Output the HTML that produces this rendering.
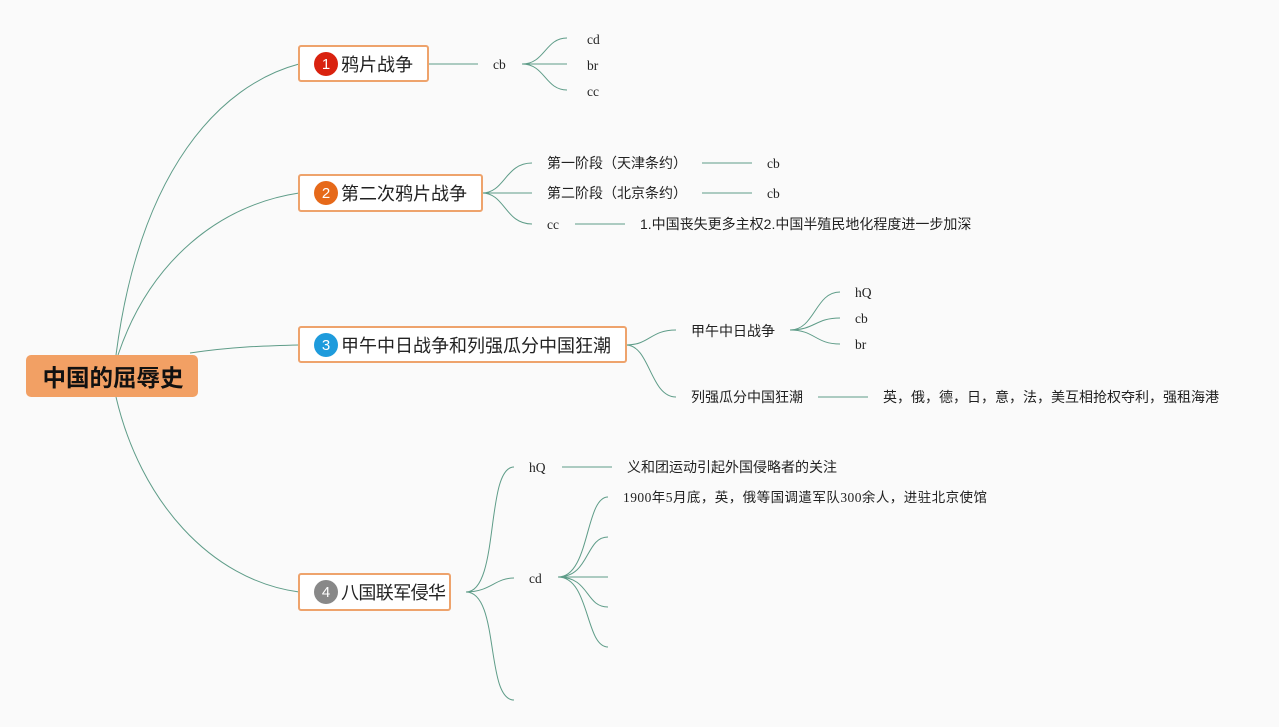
<!DOCTYPE html>
<html><head><meta charset="utf-8"><style>
body{margin:0;background:#fafafa;}
svg{display:block}
.s{font-family:"Liberation Serif","Noto Sans CJK SC",serif;font-size:13.5px;fill:#222}
.c{font-family:"Liberation Sans","Noto Sans CJK SC",sans-serif;font-size:14px;fill:#222}
.b{font-family:"Liberation Sans","Noto Sans CJK SC",sans-serif;font-size:18px;fill:#222}
</style></head><body>
<svg width="1279" height="727" viewBox="0 0 1279 727">
<rect width="1279" height="727" fill="#fafafa"/>
<g fill="none" stroke="#5e9c88" stroke-width="1">
<path d="M116,355 C140,170 220,85 299,64"/>
<path d="M118,355 C150,260 220,205 299,193"/>
<path d="M190,353 C230,347 260,346 299,345"/>
<path d="M116,397 C140,500 210,580 299,592"/>
<path d="M428,64 H478"/>
<path d="M522,64 C545,64 545,38 567,38 M522,64 H567 M522,64 C545,64 545,90 567,90"/>
<path d="M482,193 C505,193 505,163 532,163 M482,193 H532 M482,193 C505,193 505,224 532,224"/>
<path d="M702,163 H752 M702,193 H752 M575,224 H625"/>
<path d="M626,345 C650,345 650,330 676,330 M626,345 C650,345 650,397 676,397"/>
<path d="M790,330 C815,330 815,292 840,292 M790,330 C815,330 815,318 840,318 M790,330 C815,330 815,344 840,344"/>
<path d="M818,397 H868"/>
<path d="M466,592 C500,592 485,467 514,467 M466,592 C490,592 495,578 514,578 M466,592 C500,592 485,700 514,700"/>
<path d="M562,467 H612"/>
<path d="M558,577 C590,577 585,497 608,497 M558,577 C590,577 585,537 608,537 M558,577 H608 M558,577 C590,577 585,607 608,607 M558,577 C590,577 585,647 608,647"/>
</g>
<rect x="26" y="355" width="172" height="42" rx="5" fill="#f2a064"/>
<text x="113" y="386" text-anchor="middle" font-family="Liberation Sans,Noto Sans CJK SC,sans-serif" font-size="23.5" font-weight="bold" fill="#111">中国的屈辱史</text>
<g fill="#fff" stroke="#eea36c" stroke-width="2">
<rect x="299" y="46" width="129" height="35" rx="2"/>
<rect x="299" y="175" width="183" height="36" rx="2"/>
<rect x="299" y="327" width="327" height="35" rx="2"/>
<rect x="299" y="574" width="151" height="36" rx="2"/>
</g>
<circle cx="326" cy="64" r="12" fill="#d9220f"/>
<circle cx="326" cy="193" r="12" fill="#e6691a"/>
<circle cx="326" cy="345" r="12" fill="#1e9bdc"/>
<circle cx="326" cy="592" r="12" fill="#888"/>
<g font-family="Liberation Sans,sans-serif" font-size="15" fill="#fff" text-anchor="middle">
<text x="326" y="69">1</text><text x="326" y="198">2</text><text x="326" y="350">3</text><text x="326" y="597">4</text>
</g>
<text class="b" x="341" y="71">鸦片战争</text>
<text class="b" x="341" y="200">第二次鸦片战争</text>
<text class="b" x="341" y="352">甲午中日战争和列强瓜分中国狂潮</text>
<text class="b" x="341" y="599" textLength="105">八国联军侵华</text>
<text class="s" x="493" y="69">cb</text>
<text class="s" x="587" y="44">cd</text>
<text class="s" x="587" y="70">br</text>
<text class="s" x="587" y="96">cc</text>
<text class="c" x="547" y="168">第一阶段（天津条约）</text>
<text class="c" x="547" y="198">第二阶段（北京条约）</text>
<text class="s" x="767" y="168">cb</text>
<text class="s" x="767" y="198">cb</text>
<text class="s" x="547" y="229">cc</text>
<text class="c" x="640" y="229">1.中国丧失更多主权2.中国半殖民地化程度进一步加深</text>
<text class="c" x="691" y="336">甲午中日战争</text>
<text class="s" x="855" y="297">hQ</text>
<text class="s" x="855" y="323">cb</text>
<text class="s" x="855" y="349">br</text>
<text class="c" x="691" y="402">列强瓜分中国狂潮</text>
<text class="c" x="883" y="402">英，俄，德，日，意，法，美互相抢权夺利，强租海港</text>
<text class="s" x="529" y="472">hQ</text>
<text class="c" x="627" y="472">义和团运动引起外国侵略者的关注</text>
<text class="s" x="529" y="583">cd</text>
<text class="s" x="623" y="502" textLength="364">1900年5月底，英，俄等国调遣军队300余人，进驻北京使馆</text>
</svg>
</body></html>
